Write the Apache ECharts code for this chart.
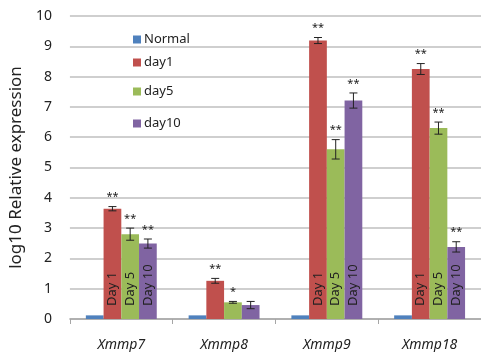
<!DOCTYPE html>
<html><head><meta charset="utf-8">
<script src="https://cdn.jsdelivr.net/npm/echarts@6/dist/echarts.min.js"></script>
<style>html,body{margin:0;padding:0;background:#fff}#c{width:481px;height:352px}</style>
</head><body><div id="c"></div>
<script>
const categories = ['Xmmp7', 'Xmmp8', 'Xmmp9', 'Xmmp18'];
const seriesNames = ['Normal', 'day1', 'day5', 'day10'];
const normalValues = [0.12, 0.12, 0.12, 0.12];
const day1Values = [3.64, 1.26, 9.19, 8.25];
const day5Values = [2.8, 0.55, 5.6, 6.3];
const day10Values = [2.49, 0.46, 7.21, 2.38];
const normalErr = [0, 0, 0, 0];
const day1Err = [0.07, 0.08, 0.1, 0.18];
const day5Err = [0.2, 0.03, 0.32, 0.2];
const day10Err = [0.15, 0.12, 0.25, 0.17];
const normalSig = ['', '', '', ''];
const day1Sig = ['**', '**', '**', '**'];
const day5Sig = ['**', '*', '**', '**'];
const day10Sig = ['**', '', '**', '**'];
const barTexts = ['', 'Day 1', 'Day 5', 'Day 10'];
const barTextCats = [true, false, true, true];
const yTicks = [0, 1, 2, 3, 4, 5, 6, 7, 8, 9, 10];

const colors = ['#4f81bd', '#c0504d', '#9bbb59', '#8064a2'];
const allValues = [normalValues, day1Values, day5Values, day10Values];
const allErr = [normalErr, day1Err, day5Err, day10Err];
const allSig = [normalSig, day1Sig, day5Sig, day10Sig];
const GAP = 0.31;
const FONT = 'Noto Sans';

const series = [];
allValues.forEach((vals, si) => {
  series.push({
    name: seriesNames[si], type: 'bar', barGap: 0, barCategoryGap: (GAP * 100) + '%',
    itemStyle: { color: colors[si] },
    data: vals.map((v, ci) => ({
      value: v,
      label: { show: !!barTexts[si] && barTextCats[ci] }
    })),
    label: {
      formatter: barTexts[si] || '', position: 'insideBottom', rotate: 90,
      align: 'left', verticalAlign: 'middle', distance: 13,
      color: '#222', fontSize: 13, fontFamily: FONT
    },
    z: 2
  });
});
allValues.forEach((vals, si) => {
  if (si === 0) return;
  series.push({
    type: 'custom', name: seriesNames[si] + '_err', silent: true, z: 5,
    data: vals.map((v, ci) => [ci, v, allErr[si][ci]]),
    renderItem: function (params, api) {
      const ci = api.value(0), v = api.value(1), e = api.value(2);
      const sig = allSig[si][ci];
      const catW = api.size([1, 0])[0];
      const bw = catW * (1 - GAP) / 4;
      const cx = api.coord([ci, v])[0] + (si - 1.5) * bw;
      const yt = api.coord([ci, v + e])[1];
      const yb = api.coord([ci, v - e])[1];
      const cap = 4;
      const st = { stroke: '#222', lineWidth: 1 };
      const children = [
        { type: 'line', shape: { x1: cx, y1: yt, x2: cx, y2: yb }, style: st },
        { type: 'line', shape: { x1: cx - cap, y1: yt, x2: cx + cap, y2: yt }, style: st },
        { type: 'line', shape: { x1: cx - cap, y1: yb, x2: cx + cap, y2: yb }, style: st }
      ];
      if (sig) children.push({ type: 'text', style: { text: sig, x: cx, y: yt - 4, align: 'center', verticalAlign: 'bottom', fontSize: 11, fontFamily: FONT, fill: '#222' } });
      return { type: 'group', children };
    }
  });
});

const legends = seriesNames.map((n, i) => ({
  data: [n], left: 128, top: [28, 51, 80, 112][i], orient: 'vertical',
  itemWidth: 8, itemHeight: 8, icon: 'rect',
  textStyle: { fontSize: 13, fontFamily: FONT, color: '#222', padding: [0, 0, 0, -2] }
}));

const chart = echarts.init(document.getElementById('c'));
chart.setOption({
  animation: false,
  legend: legends,
  grid: { left: 62, right: 0, top: 16, bottom: 33, containLabel: false },
  xAxis: {
    type: 'category', data: categories,
    axisLine: { lineStyle: { color: '#a6a6a6', width: 1.5 } },
    axisTick: { show: true, length: 5, lineStyle: { color: '#a6a6a6' } },
    axisLabel: { fontStyle: 'italic', fontSize: 14, fontFamily: FONT, color: '#222', margin: 19 }
  },
  yAxis: {
    type: 'value', min: 0, max: 10, interval: 1,
    name: 'log10 Relative expression', nameLocation: 'middle', nameGap: 36,
    nameTextStyle: { fontSize: 17, fontFamily: FONT, color: '#222' },
    axisLine: { show: false }, axisTick: { show: false },
    axisLabel: { fontSize: 14, fontFamily: FONT, color: '#222', margin: 18, formatter: v => yTicks.includes(v) ? String(v) : '' },
    splitLine: { lineStyle: { color: '#bfbfbf', width: 1.5 } }
  },
  series
});
</script></body></html>
